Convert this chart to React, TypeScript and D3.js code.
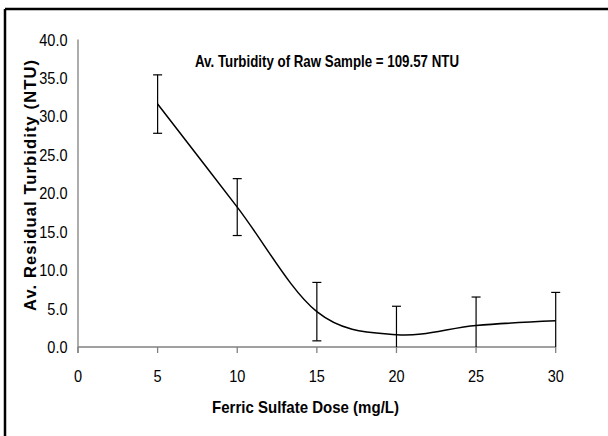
import React from "react";
import * as d3 from "d3";

const doses = [5, 10, 15, 20, 25, 30];
const turbidity = [31.6, 18.2, 4.6, 1.6, 2.8, 3.4];
const errors = [3.8, 3.7, 3.8, 3.7, 3.7, 3.7];
const xTicks = [0, 5, 10, 15, 20, 25, 30];
const yTicks = [0, 5, 10, 15, 20, 25, 30, 35, 40];
const titleText = "Av. Turbidity of Raw Sample = 109.57 NTU";
const xLabel = "Ferric Sulfate Dose (mg/L)";
const yLabel = "Av. Residual Turbidity (NTU)";

const W = 608;
const H = 436;
const FONT = "'Liberation Sans', Arial, sans-serif";
const SX = 0.88;

export default function App() {
  const x = d3.scaleLinear().domain([0, 30]).range([78, 555.7]);
  const y = d3.scaleLinear().domain([0, 40]).range([347, 39.5]);
  const pts: [number, number][] = doses.map((d, i) => [x(d), y(turbidity[i])]);
  const line = d3.line().curve(d3.curveCardinal.tension(0))(pts) || "";
  const axisColor = "#808080";

  return (
    <svg
      width={W}
      height={H}
      style={{ position: "absolute", left: 0, top: 0, display: "block", background: "#fff" }}
    >
      <rect x={0} y={0} width={W} height={H} fill="#fff" />
      {/* outer frame (left and top visible) */}
      <line x1={5} y1={9} x2={W} y2={9} stroke="#000" strokeWidth={2.5} />
      <line x1={5} y1={9} x2={5} y2={H} stroke="#000" strokeWidth={2.5} />

      {/* y axis */}
      <line x1={x(0)} y1={y(40)} x2={x(0)} y2={y(0) + 6} stroke={axisColor} strokeWidth={1.3} />
      {/* x axis */}
      <line x1={x(0)} y1={y(0)} x2={x(30)} y2={y(0)} stroke={axisColor} strokeWidth={1.3} />
      {xTicks.map((t) => (
        <line key={"xt" + t} x1={x(t)} y1={y(0)} x2={x(t)} y2={y(0) + 6} stroke={axisColor} strokeWidth={1.3} />
      ))}
      {xTicks.map((t) => (
        <text
          key={"xl" + t}
          transform={`translate(${x(t)},382) scale(${SX},1)`}
          textAnchor="middle"
          fontFamily={FONT}
          fontSize={16.5}
          fill="#000"
        >
          {t}
        </text>
      ))}
      {yTicks.map((t) => (
        <text
          key={"yl" + t}
          transform={`translate(67.5,${y(t) + 6}) scale(${SX},1)`}
          textAnchor="end"
          fontFamily={FONT}
          fontSize={16.5}
          fill="#000"
        >
          {t.toFixed(1)}
        </text>
      ))}

      {/* error bars */}
      {doses.map((d, i) => {
        const top = turbidity[i] + errors[i];
        const bot = Math.max(0, turbidity[i] - errors[i]);
        const cx = x(d);
        return (
          <g key={"eb" + i} stroke="#000" strokeWidth={1.2}>
            <line x1={cx} y1={y(top)} x2={cx} y2={y(bot)} />
            <line x1={cx - 4.5} y1={y(top)} x2={cx + 4.5} y2={y(top)} />
            {bot > 0 && <line x1={cx - 4.5} y1={y(bot)} x2={cx + 4.5} y2={y(bot)} />}
          </g>
        );
      })}

      {/* smoothed line */}
      <path d={line} fill="none" stroke="#000" strokeWidth={1.5} />

      {/* annotation */}
      <text
        x={195}
        y={67}
        fontFamily={FONT}
        fontWeight="bold"
        fontSize={16.5}
        textLength={264}
        lengthAdjust="spacingAndGlyphs"
        fill="#000"
      >
        {titleText}
      </text>

      {/* x axis title */}
      <text
        x={212}
        y={413}
        fontFamily={FONT}
        fontWeight="bold"
        fontSize={16.5}
        textLength={187}
        lengthAdjust="spacingAndGlyphs"
        fill="#000"
      >
        {xLabel}
      </text>

      {/* y axis title */}
      <text
        transform="translate(36,311) rotate(-90)"
        x={0}
        y={0}
        fontFamily={FONT}
        fontWeight="bold"
        fontSize={16.5}
        textLength={251}
        lengthAdjust="spacing"
        fill="#000"
      >
        {yLabel}
      </text>
    </svg>
  );
}
